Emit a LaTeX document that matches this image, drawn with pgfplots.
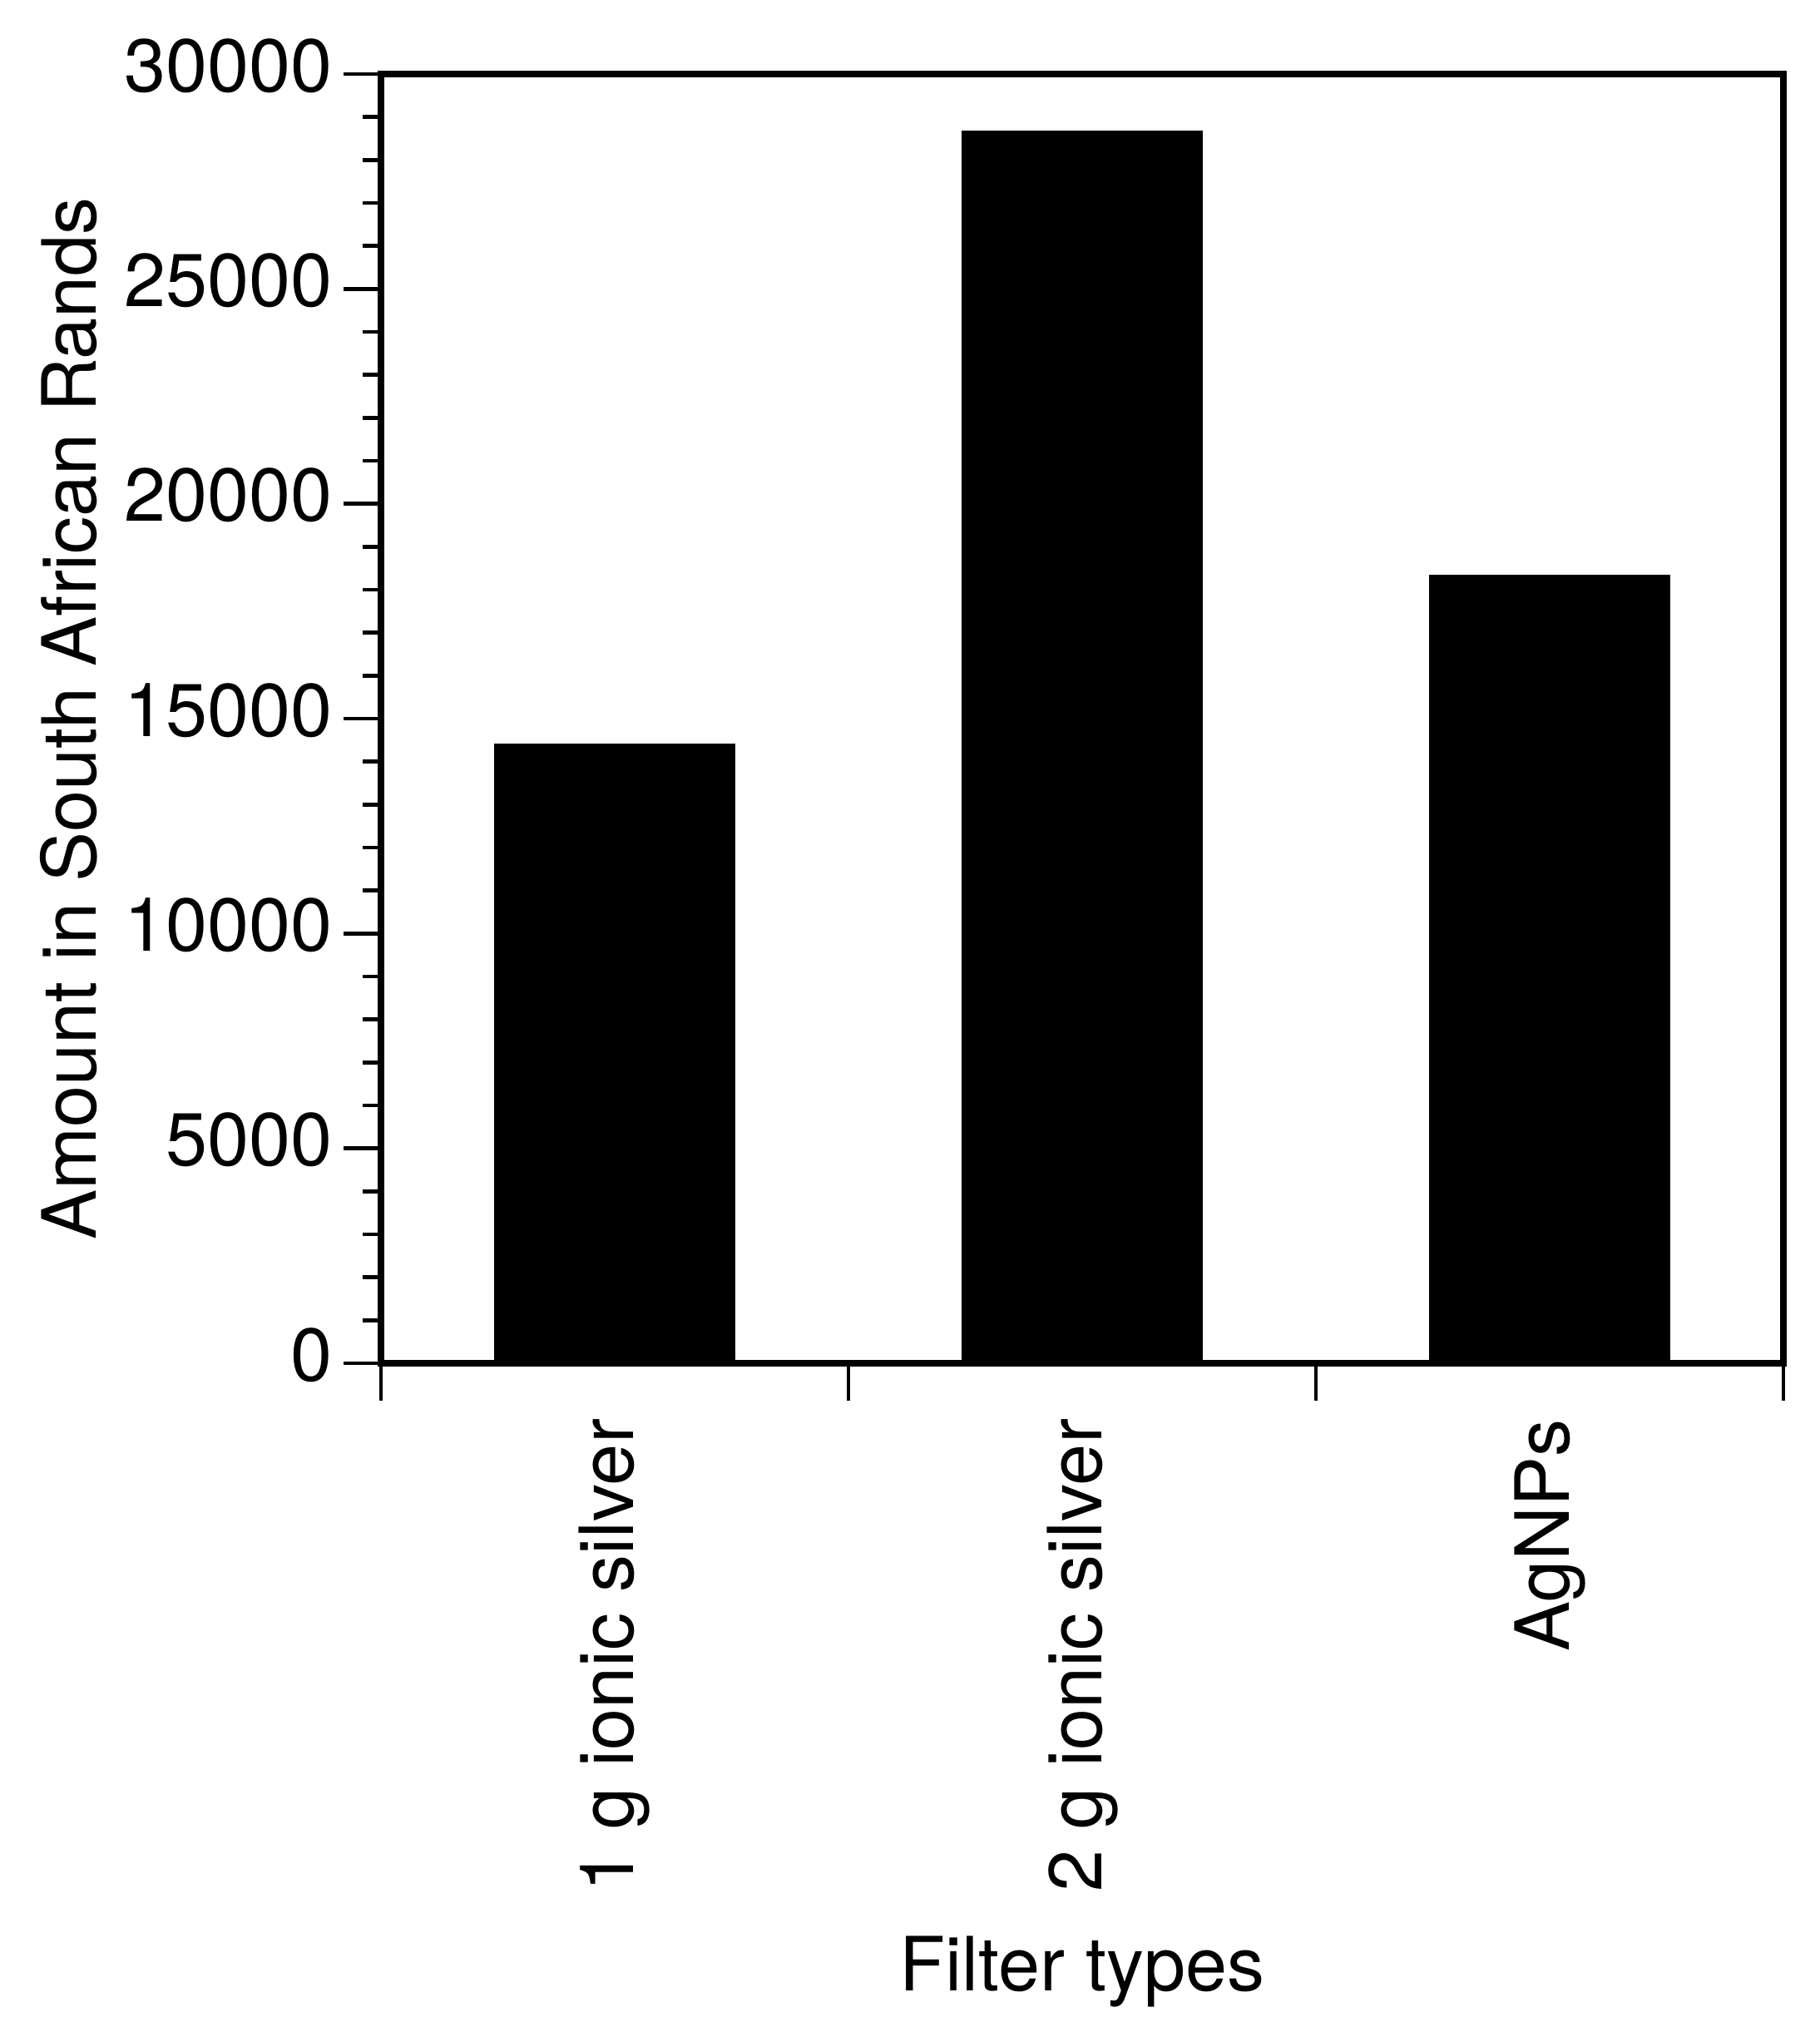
\documentclass[border=0pt]{standalone}
\usepackage{pgfplots}
\pgfplotsset{compat=1.18}
\usepackage{fontspec}
\setmainfont{TeX Gyre Heros}

\begin{document}
\begin{tikzpicture}[font=\fontsize{18}{21.6}\selectfont]
\begin{axis}[
  scale only axis,
  width=337.2pt, height=310pt,
  xmin=0.5, xmax=3.5,
  ymin=0, ymax=30000,
  axis on top,
  axis line style={line width=1.6pt},
  tick style={line width=0.9pt, black},
  tick align=outside,
  xtick pos=bottom, ytick pos=left,
  major tick length=9pt,
  minor tick length=4.4pt,
  ytick={0,5000,...,30000},
  minor y tick num=4,
  scaled y ticks=false,
  /pgf/number format/1000 sep={},
  /pgf/number format/assume math mode=true,
  yticklabel style={inner sep=0pt, xshift=-2.4pt, yshift=2pt},
  xtick={0.5,1.5,2.5,3.5},
  xticklabels={},
  extra x ticks={1,2,3},
  extra x tick labels={1 g ionic silver,2 g ionic silver,AgNPs},
  extra x tick style={major tick length=0pt,
    tick label style={yshift=-13.2pt, rotate=90, anchor=east, inner sep=0pt}},
  xlabel={Filter types},
  ylabel={Amount in South African Rands},
  xlabel style={at={(axis description cs:0.5,-0.4865)}, anchor=base},
  ylabel style={at={(axis description cs:-0.2034,0.5)}, anchor=base},
]
\addplot[ybar, bar width=0.514, fill=black, draw=black]
  coordinates {(1,14400) (2,28660) (3,18330)};
\end{axis}
\pgfresetboundingbox
\path[use as bounding box] (-91.6pt,-158.4pt) rectangle (345.8pt,327.8pt);
\end{tikzpicture}
\end{document}
